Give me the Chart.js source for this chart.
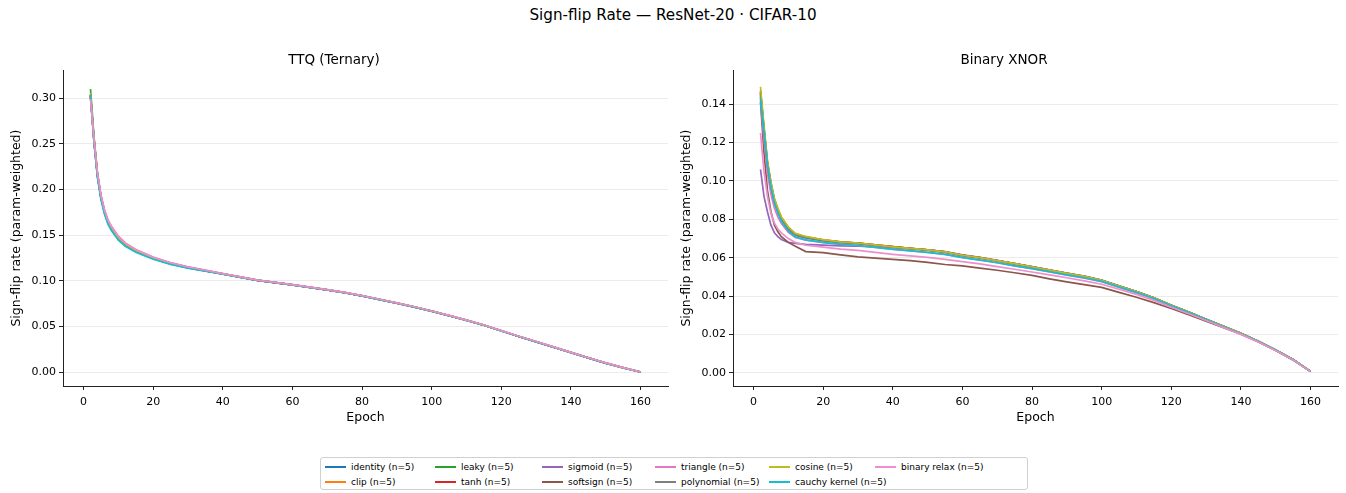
<!DOCTYPE html>
<html>
<head>
<meta charset="utf-8">
<script src="https://cdn.jsdelivr.net/npm/chart.js@4.4.1/dist/chart.umd.min.js"></script>
<style>
  html, body { margin: 0; padding: 0; background: #fff; }
  body { width: 1346px; height: 493px; position: relative; overflow: hidden;
         font-family: "DejaVu Sans", sans-serif; color: #000; }
  #suptitle { position: absolute; left: 0; top: 6px; width: 1346px; text-align: center;
              font-size: 15.2px; line-height: 18px; }
  .panel { position: absolute; top: 0; width: 673px; height: 428px; }
  #left { left: 0; }
  #right { left: 670px; }
  #legend { position: absolute; left: 320px; top: 457px; width: 702px; height: 29px;
            border: 1px solid #d0d0d0; border-radius: 3px; padding: 1px 2px;
            display: grid; grid-auto-flow: column; grid-template-rows: 15px 15px;
            grid-template-columns: 110px 107px 113px 114px 106px auto;
            font-size: 9px; }
  .item { display: flex; align-items: center; white-space: nowrap; }
  .swatch { flex: 0 0 21px; height: 2px; margin: 0 5px 0 2px; }
</style>
</head>
<body>
<div id="suptitle">Sign-flip Rate — ResNet-20 · CIFAR-10</div>
<div class="panel" id="left"><canvas id="ttq"></canvas></div>
<div class="panel" id="right"><canvas id="xnor"></canvas></div>
<div id="legend"></div>

<script>

const EPOCHS = [2,3,4,5,6,7,8,10,12,15,20,25,30,35,40,45,50,55,60,65,70,75,80,85,90,95,100,105,110,115,120,125,130,135,140,145,150,155,160];

const NAMES = ["identity","clip","leaky","tanh","sigmoid","softsign","triangle","polynomial","cosine","cauchy kernel","binary relax"];
const COLORS = ["#1f77b4","#ff7f0e","#2ca02c","#d62728","#9467bd","#8c564b","#e377c2","#7f7f7f","#bcbd22","#17becf","#ec8fcc"];
const RUNS = [5,5,5,5,5,5,5,5,5,5,5];

// TTQ (Ternary)
const TTQ_IDENTITY = [0.303,0.253,0.215,0.191,0.175,0.164,0.157,0.146,0.139,0.132,0.1245,0.1185,0.1142,0.1108,0.1074,0.1039,0.1004,0.0979,0.0954,0.0927,0.0899,0.0869,0.0834,0.0794,0.0754,0.0712,0.0666,0.0617,0.0566,0.0512,0.0451,0.0389,0.0331,0.0272,0.0213,0.0154,0.0097,0.0046,0.0000];
const TTQ_CLIP = [0.302,0.254,0.216,0.192,0.176,0.165,0.158,0.147,0.1405,0.1333,0.1252,0.1192,0.1147,0.1112,0.1077,0.1042,0.1007,0.0982,0.0957,0.0929,0.0901,0.0871,0.0836,0.0796,0.0756,0.0714,0.0668,0.0619,0.0568,0.0514,0.0453,0.0391,0.0333,0.0274,0.0215,0.0156,0.0099,0.0048,0.0000];
const TTQ_LEAKY = [0.310,0.258,0.218,0.193,0.1765,0.1655,0.1585,0.1475,0.1403,0.1332,0.1251,0.1191,0.1146,0.1111,0.1076,0.1041,0.1006,0.0981,0.0956,0.0929,0.0901,0.0871,0.0836,0.0796,0.0756,0.0714,0.0668,0.0619,0.0568,0.0514,0.0453,0.0391,0.0333,0.0274,0.0215,0.0156,0.0099,0.0048,0.0000];
const TTQ_TANH = [0.304,0.255,0.2165,0.1925,0.1765,0.1655,0.1585,0.1475,0.1402,0.1332,0.1252,0.1191,0.1146,0.1110,0.1075,0.1040,0.1005,0.0980,0.0955,0.0928,0.0900,0.0870,0.0835,0.0795,0.0755,0.0713,0.0667,0.0618,0.0567,0.0513,0.0452,0.0390,0.0332,0.0273,0.0214,0.0155,0.0098,0.0047,0.0000];
const TTQ_SIGMOID = [0.301,0.252,0.214,0.1905,0.1748,0.164,0.1572,0.1463,0.1394,0.1326,0.1247,0.1188,0.1144,0.1109,0.1075,0.1040,0.1005,0.0980,0.0955,0.0928,0.0900,0.0870,0.0835,0.0795,0.0755,0.0713,0.0667,0.0618,0.0567,0.0513,0.0452,0.0390,0.0332,0.0273,0.0214,0.0155,0.0098,0.0047,0.0000];
const TTQ_SOFTSIGN = [0.303,0.254,0.2155,0.1915,0.1755,0.1648,0.1578,0.1468,0.1398,0.1329,0.1249,0.1189,0.1145,0.1110,0.1075,0.1040,0.1005,0.0980,0.0955,0.0928,0.0900,0.0870,0.0835,0.0795,0.0755,0.0713,0.0667,0.0618,0.0567,0.0513,0.0452,0.0390,0.0332,0.0273,0.0214,0.0155,0.0098,0.0047,0.0000];
const TTQ_TRIANGLE = [0.302,0.256,0.218,0.194,0.178,0.1668,0.1598,0.1488,0.1415,0.1342,0.126,0.1198,0.1152,0.1116,0.1080,0.1044,0.1008,0.0983,0.0957,0.0930,0.0902,0.0872,0.0837,0.0797,0.0757,0.0715,0.0669,0.0620,0.0569,0.0515,0.0454,0.0392,0.0334,0.0275,0.0216,0.0157,0.0100,0.0049,0.0000];
const TTQ_POLYNOMIAL = [0.304,0.255,0.216,0.192,0.176,0.165,0.158,0.147,0.140,0.133,0.125,0.119,0.1145,0.111,0.1075,0.104,0.1005,0.098,0.0955,0.0928,0.0900,0.0870,0.0835,0.0795,0.0755,0.0713,0.0667,0.0618,0.0567,0.0513,0.0452,0.0390,0.0332,0.0273,0.0214,0.0155,0.0098,0.0047,0.0000];
const TTQ_COSINE = [0.306,0.256,0.217,0.1925,0.1763,0.1652,0.1582,0.1472,0.1401,0.1331,0.1251,0.1191,0.1146,0.1111,0.1076,0.1041,0.1006,0.0981,0.0956,0.0929,0.0901,0.0871,0.0836,0.0796,0.0756,0.0714,0.0668,0.0619,0.0568,0.0514,0.0453,0.0391,0.0333,0.0274,0.0215,0.0156,0.0099,0.0048,0.0000];
const TTQ_CAUCHY = [0.304,0.252,0.213,0.189,0.173,0.162,0.155,0.1445,0.1378,0.1312,0.1236,0.1180,0.1138,0.1105,0.1072,0.1038,0.1004,0.0979,0.0954,0.0927,0.0899,0.0869,0.0834,0.0794,0.0754,0.0712,0.0666,0.0617,0.0566,0.0512,0.0451,0.0389,0.0331,0.0272,0.0213,0.0154,0.0097,0.0046,0.0000];
const TTQ_BINARY_RELAX = [0.299,0.255,0.2175,0.1935,0.1775,0.1665,0.1595,0.1485,0.1412,0.134,0.1258,0.1197,0.1151,0.1115,0.1079,0.1043,0.1007,0.0982,0.0957,0.0930,0.0902,0.0872,0.0837,0.0797,0.0757,0.0715,0.0669,0.0620,0.0569,0.0515,0.0454,0.0392,0.0334,0.0275,0.0216,0.0157,0.0100,0.0049,0.0000];

// Binary XNOR
const XNOR_IDENTITY = [0.144,0.125,0.1075,0.0965,0.0888,0.0838,0.0798,0.0748,0.0718,0.0703,0.0689,0.0679,0.0673,0.0664,0.0655,0.0647,0.0639,0.0628,0.0611,0.0599,0.0583,0.0567,0.0551,0.0534,0.0517,0.0501,0.0481,0.0451,0.0422,0.0389,0.0351,0.0315,0.0278,0.0241,0.0204,0.0163,0.0118,0.0068,0.0008];
const XNOR_CLIP = [0.146,0.127,0.109,0.098,0.0898,0.0848,0.0806,0.0754,0.0723,0.0708,0.0692,0.0682,0.0677,0.0667,0.0658,0.0649,0.0641,0.0631,0.0614,0.0601,0.0585,0.0569,0.0553,0.0536,0.0519,0.0503,0.0483,0.0453,0.0424,0.0391,0.0353,0.0317,0.0280,0.0243,0.0206,0.0165,0.0120,0.0070,0.0008];
const XNOR_LEAKY = [0.146,0.127,0.1088,0.0978,0.0896,0.0846,0.0805,0.0753,0.0722,0.0707,0.0691,0.0681,0.0676,0.0666,0.0657,0.0649,0.0641,0.0631,0.0613,0.0601,0.0585,0.0569,0.0553,0.0536,0.0519,0.0503,0.0483,0.0453,0.0424,0.0391,0.0353,0.0317,0.0280,0.0243,0.0206,0.0165,0.0120,0.0070,0.0008];
const XNOR_TANH = [0.147,0.128,0.110,0.099,0.0905,0.0852,0.081,0.0758,0.0725,0.0709,0.0693,0.0683,0.0677,0.0667,0.0658,0.0649,0.0641,0.0631,0.0613,0.0601,0.0585,0.0569,0.0553,0.0536,0.0519,0.0503,0.0483,0.0453,0.0424,0.0391,0.0353,0.0317,0.0280,0.0243,0.0206,0.0165,0.0120,0.0070,0.0008];
const XNOR_SIGMOID = [0.106,0.092,0.084,0.077,0.073,0.071,0.0695,0.068,0.0675,0.0670,0.0666,0.0662,0.0660,0.0656,0.0652,0.0647,0.0641,0.0632,0.0615,0.0602,0.0586,0.0570,0.0554,0.0537,0.0520,0.0504,0.0484,0.0454,0.0424,0.0391,0.0353,0.0317,0.0280,0.0243,0.0206,0.0165,0.0120,0.0070,0.0008];
const XNOR_SOFTSIGN = [0.141,0.115,0.095,0.084,0.077,0.0735,0.071,0.068,0.066,0.0632,0.0627,0.0615,0.0605,0.0598,0.0592,0.0585,0.0576,0.0565,0.0558,0.0546,0.0535,0.0522,0.0508,0.0490,0.0474,0.0460,0.0446,0.0420,0.0394,0.0366,0.0336,0.0304,0.0269,0.0236,0.0202,0.0162,0.0117,0.0068,0.0008];
const XNOR_TRIANGLE = [0.142,0.122,0.104,0.093,0.0858,0.0812,0.0778,0.0732,0.0706,0.0692,0.0679,0.067,0.0664,0.0654,0.0645,0.0637,0.0628,0.0618,0.0602,0.0589,0.0574,0.0558,0.0543,0.0526,0.0510,0.0494,0.0475,0.0446,0.0417,0.0385,0.0348,0.0313,0.0277,0.0240,0.0203,0.0163,0.0118,0.0069,0.0008];
const XNOR_POLYNOMIAL = [0.145,0.126,0.108,0.097,0.089,0.084,0.080,0.075,0.072,0.0705,0.069,0.068,0.0675,0.0665,0.0656,0.0648,0.0640,0.0630,0.0612,0.0600,0.0584,0.0568,0.0552,0.0535,0.0518,0.0502,0.0482,0.0452,0.0423,0.0390,0.0352,0.0316,0.0279,0.0242,0.0205,0.0164,0.0119,0.0069,0.0008];
const XNOR_COSINE = [0.149,0.129,0.1105,0.0995,0.0908,0.0856,0.0813,0.076,0.0727,0.0711,0.0694,0.0683,0.0677,0.0667,0.0657,0.0649,0.0641,0.0631,0.0613,0.0601,0.0585,0.0569,0.0553,0.0536,0.0519,0.0503,0.0483,0.0453,0.0424,0.0391,0.0353,0.0317,0.0280,0.0243,0.0206,0.0165,0.0120,0.0070,0.0008];
const XNOR_CAUCHY = [0.143,0.126,0.1085,0.097,0.0885,0.0832,0.079,0.0738,0.0708,0.0693,0.068,0.0671,0.0664,0.0654,0.0644,0.0636,0.0628,0.0618,0.0601,0.0588,0.0574,0.0558,0.0543,0.0527,0.0511,0.0496,0.0477,0.0448,0.0420,0.0388,0.0350,0.0315,0.0278,0.0241,0.0204,0.0164,0.0119,0.0069,0.0008];
const XNOR_BINARY_RELAX = [0.125,0.105,0.092,0.083,0.078,0.075,0.073,0.070,0.068,0.0665,0.0655,0.0645,0.0638,0.0628,0.0618,0.0610,0.0602,0.0592,0.0580,0.0568,0.0554,0.0540,0.0526,0.0511,0.0496,0.0480,0.0462,0.0436,0.0409,0.0378,0.0342,0.0308,0.0273,0.0237,0.0201,0.0161,0.0117,0.0068,0.0008];

const TTQ_SERIES = [TTQ_IDENTITY, TTQ_CLIP, TTQ_LEAKY, TTQ_TANH, TTQ_SIGMOID, TTQ_SOFTSIGN,
  TTQ_TRIANGLE, TTQ_POLYNOMIAL, TTQ_COSINE, TTQ_CAUCHY, TTQ_BINARY_RELAX];
const XNOR_SERIES = [XNOR_IDENTITY, XNOR_CLIP, XNOR_LEAKY, XNOR_TANH, XNOR_SIGMOID, XNOR_SOFTSIGN,
  XNOR_TRIANGLE, XNOR_POLYNOMIAL, XNOR_COSINE, XNOR_CAUCHY, XNOR_BINARY_RELAX];

const X_TICKS = [0, 20, 40, 60, 80, 100, 120, 140, 160];
const TTQ_Y_TICKS = [0.00, 0.05, 0.10, 0.15, 0.20, 0.25, 0.30];
const XNOR_Y_TICKS = [0.00, 0.02, 0.04, 0.06, 0.08, 0.10, 0.12, 0.14];

// --- helpers -----------------------------------------------------------------

const FONT = "'DejaVu Sans', sans-serif";
const labelOf = (i) => `${NAMES[i]} (n=${RUNS[i]})`;

function datasets(series) {
  // matplotlib draws later series on top; in Chart.js a lower order is drawn on top
  return series.map((vals, i) => ({
    label: labelOf(i),
    data: vals.map((v, k) => ({ x: EPOCHS[k], y: v })),
    borderColor: COLORS[i],
    borderWidth: 1.7,
    pointRadius: 0,
    tension: 0,
    fill: false,
    order: series.length - i,
  }));
}

function makeChart(id, title, series, yTicks, yMin, yMax) {
  return new Chart(document.getElementById(id), {
    type: "line",
    data: { datasets: datasets(series) },
    options: {
      responsive: true,
      maintainAspectRatio: false,
      animation: false,
      layout: { padding: { left: 0, right: 5, top: 0, bottom: 0 } },
      plugins: {
        legend: { display: false },
        tooltip: { enabled: false },
        title: {
          display: true, text: title, color: "#000",
          font: { family: FONT, size: 13.5, weight: "normal" },
          padding: { top: 52, bottom: 2 },
        },
      },
      scales: {
        x: {
          type: "linear", min: -5.9, max: 167.9,
          afterBuildTicks: (s) => { s.ticks = X_TICKS.map((v) => ({ value: v })); },
          afterFit: (s) => { s.height = 42; },
          ticks: { color: "#000", font: { family: FONT, size: 11 }, padding: 6,
                   maxRotation: 0, callback: (v) => String(v) },
          grid: { drawOnChartArea: false, tickColor: "#222", tickLength: 4 },
          border: { color: "#222", width: 1 },
          title: { display: true, text: "Epoch", color: "#000",
                   font: { family: FONT, size: 12.5 }, padding: { top: 0, bottom: 3 } },
        },
        y: {
          min: yMin, max: yMax,
          afterBuildTicks: (s) => { s.ticks = yTicks.map((v) => ({ value: v })); },
          afterFit: (s) => { s.width = 63; },
          ticks: { color: "#000", font: { family: FONT, size: 11 }, padding: 3,
                   callback: (v) => Number(v).toFixed(2) },
          grid: { color: "#ebebeb", lineWidth: 1, tickColor: "#222", tickLength: 4 },
          border: { color: "#222", width: 1 },
          title: { display: true, text: "Sign-flip rate (param-weighted)", color: "#000",
                   font: { family: FONT, size: 12.5 }, padding: { top: 9, bottom: 0 } },
        },
      },
    },
  });
}

makeChart("ttq", "TTQ (Ternary)", TTQ_SERIES, TTQ_Y_TICKS, -0.0153, 0.3307);
makeChart("xnor", "Binary XNOR", XNOR_SERIES, XNOR_Y_TICKS, -0.0068, 0.1577);

// --- legend (two rows, filled column by column like matplotlib ncol=6) ---------

document.getElementById("legend").innerHTML = NAMES.map((n, i) =>
  `<div class="item"><span class="swatch" style="background:${COLORS[i]}"></span>${labelOf(i)}</div>`
).join("");
</script>
</body>
</html>
